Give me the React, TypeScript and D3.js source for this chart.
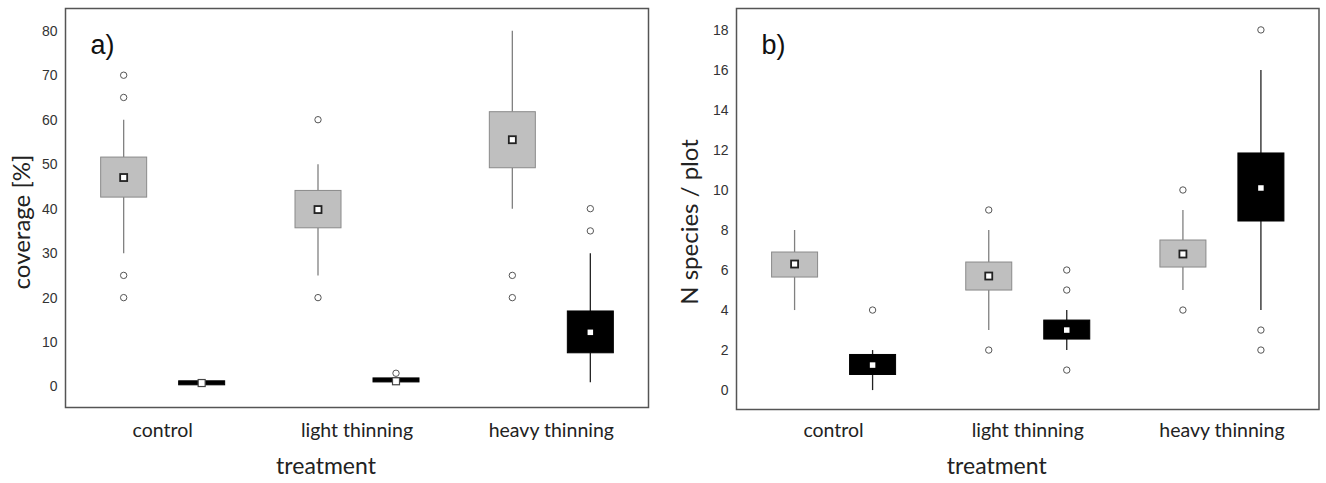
import React from "react";
import * as d3 from "d3";

// ---------- data ----------
const categories = ["control", "light thinning", "heavy thinning"];
const seriesKeys = ["grey", "black"];

// [whiskerLow, q1, mean, q3, whiskerHigh]
const coverageGrey = [
  [30, 42.6, 47, 51.6, 60],
  [25, 35.7, 39.8, 44.1, 50],
  [40, 49.2, 55.5, 61.8, 80],
];
const coverageBlack = [
  [0.8, 0.5, 0.8, 1.2, 0.8],
  [1.5, 1.1, 1.2, 1.9, 1.5],
  [1, 7.6, 12.2, 17, 30],
];
const coverageGreyOutliers = [[70, 65, 25, 20], [60, 20], [25, 20]];
const coverageBlackOutliers = [[], [3], [40, 35]];

const speciesGrey = [
  [4, 5.65, 6.3, 6.9, 8],
  [3, 5.0, 5.7, 6.4, 8],
  [5, 6.15, 6.8, 7.5, 9],
];
const speciesBlack = [
  [0, 0.78, 1.25, 1.78, 2],
  [2, 2.55, 3.0, 3.5, 4],
  [4, 8.45, 10.1, 11.85, 16],
];
const speciesGreyOutliers = [[], [9, 2], [10, 4]];
const speciesBlackOutliers = [[4], [6, 5, 1], [18, 3, 2]];

const coverageTicks = [0, 10, 20, 30, 40, 50, 60, 70, 80];
const speciesTicks = [0, 2, 4, 6, 8, 10, 12, 14, 16, 18];

// ---------- styles ----------
const tickFont = "'Liberation Sans', Arial, sans-serif";
const labelFont = "Lato, 'Open Sans', sans-serif";

type PanelProps = {
  left: number;
  right: number;
  top: number;
  bottom: number;
  domain: [number, number];
  ticks: number[];
  grey: number[][];
  black: number[][];
  greyOut: number[][];
  blackOut: number[][];
  letter: string;
  yLabel: string;
  yLabelX: number;
};

function Panel(p: PanelProps) {
  const y = d3.scaleLinear().domain(p.domain).range([p.bottom, p.top]);
  const x = d3.scaleBand().domain(categories).range([p.left, p.right]).padding(0);
  const sub = d3.scaleBand().domain(seriesKeys).range([-78, 78]).padding(0);
  const boxW = 46;

  const renderBox = (
    stats: number[],
    outs: number[],
    cx: number,
    kind: string,
    key: string
  ) => {
    const [wl, q1, mean, q3, wh] = stats;
    const isGrey = kind === "grey";
    const fill = isGrey ? "#bfbfbf" : "#000";
    const stroke = isGrey ? "#8a8a8a" : "#000";
    const whiskerColor = isGrey ? "#808080" : "#222";
    const yTop = y(q3);
    const yBot = y(q1);
    const thin = yBot - yTop < 4;
    const h = thin ? 4 : yBot - yTop;
    const yy = thin ? (yTop + yBot) / 2 - 2 : yTop;
    const ms = isGrey || thin ? 7 : 5.5;
    return (
      <g key={key}>
        {wh > q3 && (
          <line x1={cx} x2={cx} y1={y(wh)} y2={yTop} stroke={whiskerColor} strokeWidth={1.3} />
        )}
        {wl < q1 && (
          <line x1={cx} x2={cx} y1={yBot} y2={y(wl)} stroke={whiskerColor} strokeWidth={1.3} />
        )}
        <rect x={cx - boxW / 2} y={yy} width={boxW} height={h} fill={fill} stroke={stroke} strokeWidth={1} />
        {outs.map((o, i) => (
          <circle key={i} cx={cx} cy={y(o)} r={3.2} fill="#fff" stroke="#555" strokeWidth={1} />
        ))}
        {isGrey || thin ? (
          <rect
            x={cx - ms / 2}
            y={y(mean) - ms / 2}
            width={ms}
            height={ms}
            fill="#fff"
            stroke={thin ? "#444" : "#222"}
            strokeWidth={thin ? 1.2 : 1.8}
          />
        ) : (
          <rect x={cx - ms / 2} y={y(mean) - ms / 2} width={ms} height={ms} fill="#fff" />
        )}
      </g>
    );
  };

  const midX = (p.left + p.right) / 2;
  return (
    <g>
      <rect x={p.left} y={p.top} width={p.right - p.left} height={p.bottom - p.top} fill="#fff" stroke="#555" strokeWidth={1.5} />
      {p.ticks.map((t) => (
        <text key={t} x={p.left - 8} y={y(t)} dy="0.35em" textAnchor="end" fontFamily={tickFont} fontSize={14} fill="#333">
          {t}
        </text>
      ))}
      {categories.map((c, i) => {
        const cx = (x(c) as number) + x.bandwidth() / 2;
        return (
          <g key={c}>
            {renderBox(p.grey[i], p.greyOut[i], cx + (sub("grey") as number) + sub.bandwidth() / 2, "grey", "g" + i)}
            {renderBox(p.black[i], p.blackOut[i], cx + (sub("black") as number) + sub.bandwidth() / 2, "black", "b" + i)}
            <text x={cx} y={437} textAnchor="middle" fontFamily={labelFont} fontSize={19.5} fill="#222">
              {c}
            </text>
          </g>
        );
      })}
      <text x={midX - 31} y={474} textAnchor="middle" fontFamily={labelFont} fontSize={23} fill="#222">
        treatment
      </text>
      <text
        transform={`translate(${p.yLabelX},222) rotate(-90)`}
        textAnchor="middle"
        fontFamily={labelFont}
        fontSize={24}
        fill="#222"
      >
        {p.yLabel}
      </text>
      <text x={p.left + 25} y={p.top + 45} fontFamily={tickFont} fontSize={27} fill="#111">
        {p.letter}
      </text>
    </g>
  );
}

export default function App() {
  return (
    <svg
      width={1326}
      height={483}
      style={{ position: "absolute", left: 0, top: 0, background: "#fff" }}
    >
      <Panel
        left={65.5}
        right={648.5}
        top={8.5}
        bottom={407.5}
        domain={[-4.7, 85]}
        ticks={coverageTicks}
        grey={coverageGrey}
        black={coverageBlack}
        greyOut={coverageGreyOutliers}
        blackOut={coverageBlackOutliers}
        letter="a)"
        yLabel="coverage [%]"
        yLabelX={30}
      />
      <Panel
        left={736.5}
        right={1319}
        top={8.5}
        bottom={409.5}
        domain={[-0.97, 19.07]}
        ticks={speciesTicks}
        grey={speciesGrey}
        black={speciesBlack}
        greyOut={speciesGreyOutliers}
        blackOut={speciesBlackOutliers}
        letter="b)"
        yLabel="N species / plot"
        yLabelX={698}
      />
    </svg>
  );
}
